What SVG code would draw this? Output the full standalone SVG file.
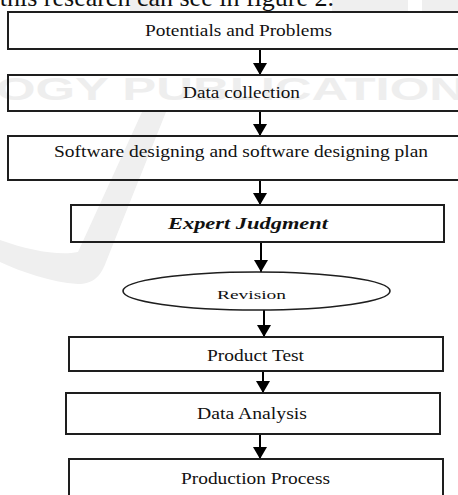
<svg xmlns="http://www.w3.org/2000/svg" width="458" height="495" viewBox="0 0 458 495">
  <defs>
    <style>
      .box { fill: none; stroke: #1e1e1e; stroke-width: 2; }
      .oval { fill: none; stroke: #1e1e1e; stroke-width: 1.6; }
      .lbl { font-family: "Liberation Serif", "Times New Roman", serif; font-size: 16px; fill: #111; }
      .small { font-size: 13.5px; }
      .em { font-weight: bold; font-style: italic; }
      .body { font-family: "Liberation Serif", "Times New Roman", serif; font-size: 26px; fill: #111; }
      .wm { fill: #efefef; }
      .wmtext { font-family: "Liberation Sans", Arial, sans-serif; font-weight: bold; font-size: 31px; fill: #eeeeee; }
      .link { fill: none; stroke: #000; stroke-width: 2; marker-end: url(#head); }
    </style>
    <marker id="head" markerUnits="userSpaceOnUse" markerWidth="12" markerHeight="14" refX="12" refY="7" orient="auto">
      <path d="M0,0 L12,7 L0,14 z" fill="#000"/>
    </marker>
  </defs>

  <rect x="0" y="0" width="458" height="495" fill="#fff"/>

  <!-- faint publisher watermark behind the flow chart -->
  <g id="watermark">
    <rect class="wm" x="130" y="0" width="30" height="12"/>
    <rect class="wm" x="332" y="0" width="76" height="12"/>
    <rect class="wm" x="422" y="0" width="36" height="12"/>
    <text class="wmtext" x="-4" y="100" textLength="470" lengthAdjust="spacingAndGlyphs">OGY PUBLICATION</text>
    <path class="wm" d="M142,112 L166,112 L106,262 C100,278 92,284 78,284 C50,282 22,272 0,262 L0,240 C28,250 58,256 78,252 Z"/>
  </g>

  <!-- running text line above the figure -->
  <text class="body" x="334" y="6" text-anchor="end">this research can see in figure 2.</text>

  <g id="connectors">
    <line class="link" x1="260" y1="49" x2="260" y2="75"/>
    <line class="link" x1="260" y1="111" x2="260" y2="136"/>
    <line class="link" x1="260" y1="180" x2="260" y2="205"/>
    <line class="link" x1="261" y1="242" x2="261" y2="272"/>
    <line class="link" x1="264" y1="310" x2="264" y2="337"/>
    <line class="link" x1="263" y1="371" x2="263" y2="393"/>
    <line class="link" x1="260" y1="434" x2="260" y2="459"/>
  </g>

  <g id="potentials">
    <rect class="box" x="8" y="12" width="460" height="37"/>
    <text class="lbl" x="145" y="36" textLength="187" lengthAdjust="spacingAndGlyphs">Potentials and Problems</text>
  </g>

  <g id="data-collection">
    <rect class="box" x="8" y="75" width="460" height="36"/>
    <text class="lbl" x="183" y="98" textLength="117" lengthAdjust="spacingAndGlyphs">Data collection</text>
  </g>

  <g id="software-design">
    <rect class="box" x="8" y="136" width="460" height="44"/>
    <text class="lbl" x="54" y="157" textLength="374" lengthAdjust="spacingAndGlyphs">Software designing and software designing plan</text>
  </g>

  <g id="expert-judgment">
    <rect class="box" x="71" y="205" width="373" height="37"/>
    <text class="lbl em" x="168" y="229" textLength="160" lengthAdjust="spacingAndGlyphs">Expert Judgment</text>
  </g>

  <g id="revision">
    <ellipse class="oval" cx="256.5" cy="291" rx="133.5" ry="19"/>
    <text class="lbl small" x="217" y="299" textLength="69" lengthAdjust="spacingAndGlyphs">Revision</text>
  </g>

  <g id="product-test">
    <rect class="box" x="69" y="337" width="374" height="34"/>
    <text class="lbl" x="207" y="361" textLength="97" lengthAdjust="spacingAndGlyphs">Product Test</text>
  </g>

  <g id="data-analysis">
    <rect class="box" x="66" y="393" width="374" height="41"/>
    <text class="lbl" x="197" y="419" textLength="110" lengthAdjust="spacingAndGlyphs">Data Analysis</text>
  </g>

  <g id="production-process">
    <rect class="box" x="69" y="459" width="374" height="50"/>
    <text class="lbl" x="181" y="484" textLength="149" lengthAdjust="spacingAndGlyphs">Production Process</text>
  </g>
</svg>
